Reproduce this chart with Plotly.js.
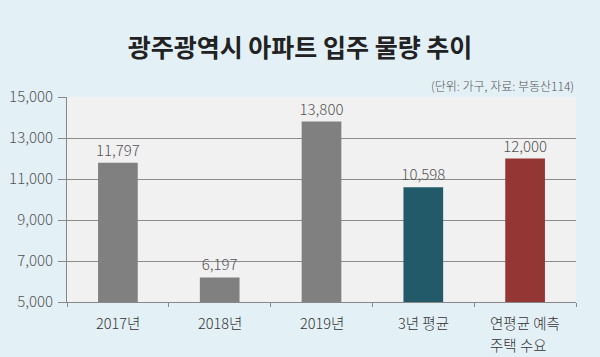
<!DOCTYPE html>
<html>
<head>
<meta charset="utf-8">
<script src="https://cdn.plot.ly/plotly-3.0.1.min.js"></script>
<style>html,body{margin:0;padding:0;background:#e3f0f6;}#chart{width:600px;height:357px;}</style>
</head>
<body>
<div id="chart"></div>
<script>
const categories = ["2017년", "2018년", "2019년", "3년 평균", "연평균 예측<br>주택 수요"];
const values = [11797, 6197, 13800, 10598, 12000];
const valueLabels = ["11,797", "6,197", "13,800", "10,598", "12,000"];
const barColors = ["#808080", "#808080", "#808080", "#235a69", "#943634"];
const yTicks = [5000, 7000, 9000, 11000, 13000, 15000];

const font = "'Noto Sans CJK KR', 'Noto Sans', sans-serif";

const catAnnotations = categories.map(c => ({
  text: '<span style="font-size:14.5px">' + c + '</span>',
  x: c, xref: "x", y: 0, yref: "paper",
  xanchor: "center", yanchor: "top", yshift: -8, align: "left",
  showarrow: false,
  font: {family: font, size: 17, color: "#333333", weight: 300}
}));

Plotly.newPlot("chart", [{
  type: "bar",
  x: categories,
  y: values,
  text: valueLabels,
  textposition: "outside",
  constraintext: "none",
  cliponaxis: false,
  textfont: {family: font, size: 15, color: "#555555", weight: 300},
  marker: {color: barColors},
  hoverinfo: "none"
}], {
  width: 600, height: 357,
  paper_bgcolor: "#e3f0f6",
  plot_bgcolor: "#f1f1f1",
  margin: {l: 67, r: 24, t: 97, b: 55},
  bargap: 0.61,
  showlegend: false,
  title: {text: "<b>광주광역시 아파트 입주 물량 추이</b>", x: 0.5, xanchor: "center", y: 0.865, yanchor: "middle",
          font: {family: font, size: 25, color: "#222222"}},
  xaxis: {
    type: "category",
    tickson: "boundaries",
    ticks: "outside", ticklen: 4, tickcolor: "#888888",
    showline: true, linecolor: "#888888", linewidth: 1,
    showticklabels: false,
    showgrid: false, fixedrange: true
  },
  yaxis: {
    range: [5000, 15000],
    tickvals: yTicks,
    tickformat: ",d",
    ticks: "outside", ticklen: 8, tickcolor: "#888888",
    showline: true, linecolor: "#888888", linewidth: 1,
    gridcolor: "#8c8c8c", gridwidth: 1,
    tickfont: {family: font, size: 15, color: "#555555", weight: 300},
    ticklabelstandoff: 2,
    zeroline: false, fixedrange: true
  },
  annotations: [{
    text: "(단위: 가구, 자료: 부동산114)",
    xref: "paper", yref: "paper", x: 1, y: 1, xanchor: "right", yanchor: "bottom", yshift: 1,
    showarrow: false,
    font: {family: font, size: 12, color: "#555555", weight: 300}
  }].concat(catAnnotations)
}, {displayModeBar: false, staticPlot: true});
</script>
</body>
</html>
